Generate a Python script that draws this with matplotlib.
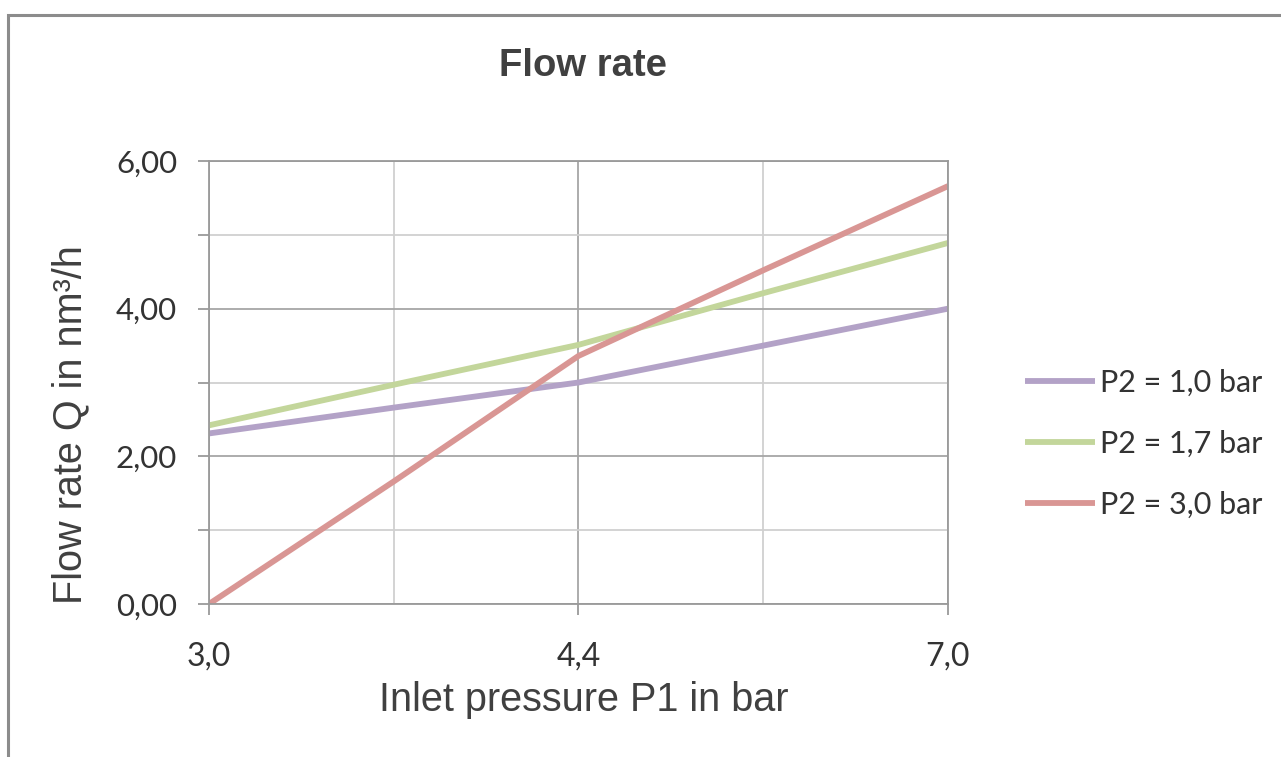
import matplotlib
matplotlib.use("Agg")
import matplotlib.pyplot as plt
from matplotlib.patches import Rectangle
from matplotlib.ticker import FixedLocator, NullFormatter

# inlet pressure categories (only every other one is labelled)
p1_labels = ["3,0", "3,7", "4,4", "5,7", "7,0"]
shown_labels = ["3,0", "4,4", "7,0"]

# flow rate Q in nm3/h
q_p2_10 = [2.31, 2.66, 3.00, 3.50, 4.00]
q_p2_17 = [2.42, 2.97, 3.51, 4.21, 4.89]
q_p2_30 = [0.00, 1.66, 3.36, 4.52, 5.66]

series = [
    ("P2 = 1,0 bar", q_p2_10, "#B3A2C7"),
    ("P2 = 1,7 bar", q_p2_17, "#C3D69B"),
    ("P2 = 3,0 bar", q_p2_30, "#D99694"),
]

W, H = 1281, 757
fig = plt.figure(figsize=(W / 100, H / 100), dpi=100)

# outer chart border (cut off at right and bottom)
fig.patches.append(Rectangle((8 / W, -0.1), 1.2, 1.1 - 15 / H, transform=fig.transFigure,
                             fill=False, edgecolor="#8c8c8c", linewidth=2.2))

ax = fig.add_axes([209 / W, (H - 604) / H, (948 - 209) / W, (604 - 161) / H])

x = list(range(len(p1_labels)))
for name, vals, col in series:
    ax.plot(x, vals, color=col, linewidth=4.2, label=name, solid_capstyle="butt")

ax.set_xlim(0, len(p1_labels) - 1)
ax.set_ylim(0, 6)

ax.xaxis.set_major_locator(FixedLocator([0, 2, 4]))
ax.set_xticklabels(shown_labels)
ax.xaxis.set_minor_locator(FixedLocator([1, 3]))
ax.yaxis.set_major_locator(FixedLocator([0, 2, 4, 6]))
ax.set_yticklabels(["0,00", "2,00", "4,00", "6,00"])
ax.yaxis.set_minor_locator(FixedLocator([1, 3, 5]))
ax.yaxis.set_minor_formatter(NullFormatter())

ax.grid(which="major", color="#a6a6a6", linewidth=1.3)
ax.grid(which="minor", color="#d0d0d0", linewidth=1.3)
ax.set_axisbelow(True)

for sp in ax.spines.values():
    sp.set_color("#9a9a9a")
    sp.set_linewidth(1.3)

ax.tick_params(which="both", direction="out", color="#9a9a9a", width=1.3)
ax.tick_params(axis="y", which="both", length=8, pad=15)
ax.tick_params(axis="x", which="major", length=8, pad=19)
ax.tick_params(axis="x", which="minor", length=0)
for lab in ax.get_yticklabels():
    lab.set_fontfamily("Lato")
    lab.set_fontsize(22.5)
    lab.set_color("#333333")
for lab in ax.get_xticklabels():
    lab.set_fontfamily("Lato")
    lab.set_fontsize(23)
    lab.set_color("#333333")

fig.text(583 / W, 1 - 66 / H, "Flow rate", ha="center", va="center",
         fontsize=27.5, fontweight="bold", color="#404040",
         family=["Liberation Sans Narrow", "Liberation Sans"])

fig.text(70 / W, 1 - 425 / H, "Flow rate Q in nm³/h", rotation=90, ha="center", va="center",
         fontsize=28.5, color="#404040", family=["Liberation Sans", "DejaVu Sans"])
fig.text(584 / W, 1 - 700 / H, "Inlet pressure P1 in bar", ha="center", va="center",
         fontsize=28.5, color="#404040", family=["Liberation Sans", "DejaVu Sans"])

leg = ax.legend(loc="center left", bbox_to_anchor=(1025 / W, 1 - 444 / H),
                bbox_transform=fig.transFigure, frameon=False, borderpad=0,
                borderaxespad=0, handlelength=2.29, handletextpad=0.16,
                labelspacing=1.08, prop={"family": "Lato", "size": 22})
for t in leg.get_texts():
    t.set_color("#333333")

fig.savefig("out.png", dpi=100)
